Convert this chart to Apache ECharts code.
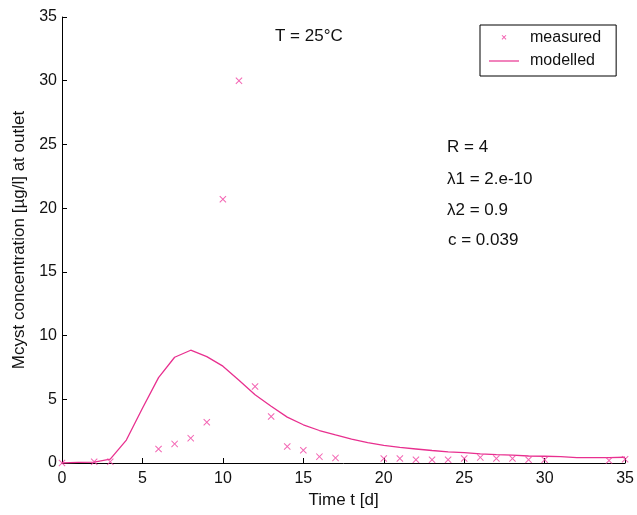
<!DOCTYPE html>
<html><head><meta charset="utf-8">
<script src="https://cdn.jsdelivr.net/npm/echarts@6/dist/echarts.min.js"></script>
<style>html,body{margin:0;padding:0;background:#fff}#c{width:637px;height:515px}</style>
</head><body><div id="c"></div>
<script>
const measuredDays = [0,2,3,6,7,8,9,10,11,12,13,14,15,16,17,20,21,22,23,24,25,26,27,28,29,30,34,35];
const measuredVals = [0,0.1,0.1,1.1,1.5,1.95,3.2,20.7,30.0,6.0,3.65,1.3,1.0,0.5,0.4,0.35,0.35,0.26,0.26,0.26,0.35,0.44,0.35,0.35,0.26,0.26,0.2,0.3];
const modelDays = [0,1,2,3,4,5,6,7,8,9,10,11,12,13,14,15,16,17,18,19,20,21,22,23,24,25,26,27,28,29,30,31,32,33,34,35];
const modelVals = [0,0.05,0.07,0.3,1.8,4.3,6.7,8.3,8.85,8.35,7.6,6.5,5.35,4.45,3.6,3.0,2.55,2.2,1.87,1.6,1.38,1.22,1.1,0.98,0.88,0.82,0.72,0.66,0.62,0.55,0.53,0.5,0.42,0.42,0.42,0.45];
const xTicks = [0,5,10,15,20,25,30,35];
const yTicks = [0,5,10,15,20,25,30,35];
const annotations = ['T = 25°C','R = 4','λ1 = 2.e-10','λ2 = 0.9','c = 0.039'];

const pink = '#e8308f';
const crossPath = 'path://M0,1L1,0L5,4L9,0L10,1L6,5L10,9L9,10L5,6L1,10L0,9L4,5Z';
// legend icons: degenerate subpaths fix the bounding box so the mark keeps its size
const legendCross = 'path://M0,0L0,0M36,14L36,14M12.6,4.6L13.3,3.9L15,5.6L16.7,3.9L17.4,4.6L15.7,6.3L17.4,8L16.7,8.7L15,7L13.3,8.7L12.6,8L14.3,6.3Z';
const legendLine = 'path://M0,0L0,0M36,14L36,14M0,6.4L30,6.4L30,7.6L0,7.6Z';
const font = 'Liberation Sans, Arial, sans-serif';
function txt(i, x, y){
  return {type:'text',x:x,y:y,style:{text:annotations[i],font:'17px '+font,fill:'#111',verticalAlign:'middle'}};
}
const chart = echarts.init(document.getElementById('c'));
chart.setOption({
  animation:false,
  backgroundColor:'#fff',
  grid:{left:62,right:9,top:17,bottom:52},
  xAxis:{type:'value',min:0,max:35,interval:5,
    name:'Time t [d]',nameLocation:'middle',nameGap:27,
    nameTextStyle:{fontFamily:font,fontSize:17,color:'#111'},
    axisLine:{lineStyle:{color:'#000',width:1}},
    axisTick:{inside:true,length:5,lineStyle:{color:'#000'}},
    axisLabel:{fontFamily:font,fontSize:16,color:'#111',margin:8,
      formatter:v=>xTicks.includes(v)?String(v):''},
    splitLine:{show:false}},
  yAxis:{type:'value',min:0,max:35,interval:5,
    name:'Mcyst concentration [µg/l] at outlet',nameLocation:'middle',nameGap:34,
    nameTextStyle:{fontFamily:font,fontSize:17,color:'#111'},
    axisLine:{show:true,lineStyle:{color:'#000',width:1}},
    axisTick:{show:true,inside:true,length:5,lineStyle:{color:'#000'}},
    axisLabel:{fontFamily:font,fontSize:16,color:'#111',margin:5,
      formatter:v=>yTicks.includes(v)?String(v):''},
    splitLine:{show:false}},
  legend:{left:480,top:25,orient:'vertical',
    borderColor:'#000',borderWidth:1,padding:[5,15,7,9],itemGap:7,
    itemWidth:36,itemHeight:14,
    textStyle:{fontFamily:font,fontSize:16,lineHeight:14,color:'#111'},
    data:[
      {name:'measured',icon:legendCross,itemStyle:{color:'#f040a0'}},
      {name:'modelled',icon:legendLine,itemStyle:{color:pink}}
    ]},
  series:[
    {name:'measured',type:'scatter',symbol:crossPath,symbolSize:7,
      itemStyle:{color:'#f040a0'},
      data:measuredDays.map((d,i)=>[d,measuredVals[i]]),z:3},
    {name:'modelled',type:'line',symbol:'none',
      lineStyle:{color:pink,width:1.3},itemStyle:{color:pink},
      data:modelDays.map((d,i)=>[d,modelVals[i]]),z:2}
  ],
  graphic:[
    txt(0,275,36), txt(1,447,147), txt(2,447,179), txt(3,447,210), txt(4,448,240)
  ]
});
</script></body></html>
